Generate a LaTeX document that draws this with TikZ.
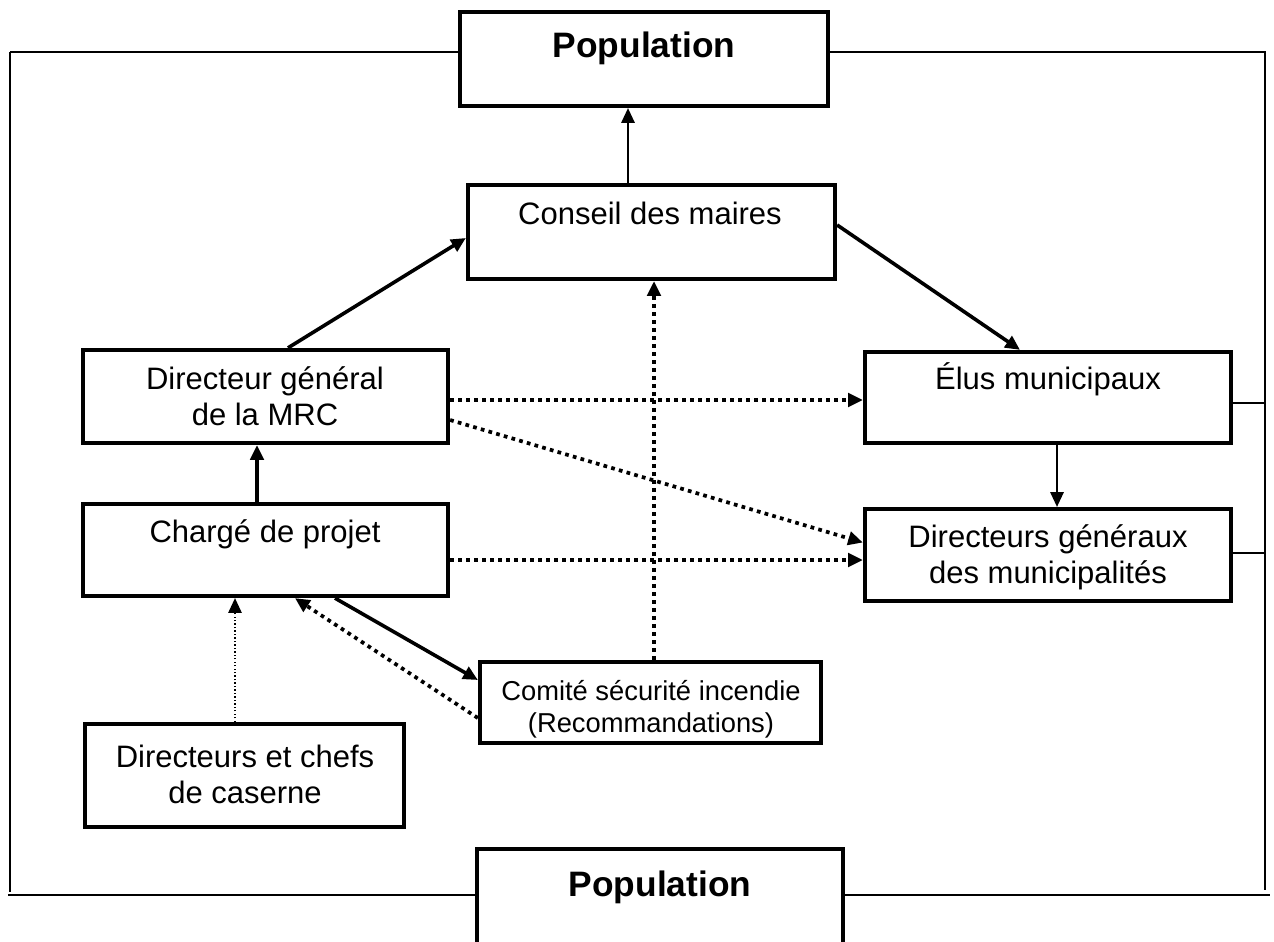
\documentclass[tikz,border=0pt]{standalone}
\usepackage{fontspec}
\setmainfont{Liberation Sans}
\usetikzlibrary{arrows.meta,calc}
\begin{document}
\begin{tikzpicture}[x=0.75pt,y=-0.75pt,
  box/.style={draw, line width=3.2pt, fill=white, inner sep=0pt, rectangle},
  txt/.style={font=\fontsize{23.25}{28}\selectfont, anchor=base, inner sep=0pt},
  smalltxt/.style={font=\fontsize{20.5}{24}\selectfont, anchor=base, inner sep=0pt},
  poptxt/.style={font=\fontsize{26.5}{30}\selectfont\bfseries, anchor=base, inner sep=0pt},
  tip/.style={-{Triangle[length=11pt,width=10pt]}},
  thinarr/.style={tip, line width=1.2pt},
  thickarr/.style={tip, line width=2.7pt},
  dotarr/.style={tip, line width=2.8pt, dash pattern=on 2.8pt off 3.2pt},
  finedot/.style={tip, line width=1pt, dash pattern=on 1pt off 1.6pt},
  frameh/.style={line width=1.6pt},
  framev/.style={line width=1.2pt}]
\useasboundingbox (0,0) rectangle (1274,942);
\clip (0,0) rectangle (1274,942);

% boxes
\node[box, minimum width=276pt, minimum height=70.5pt] (popT) at (644,59) {};
\node[box, minimum width=275.25pt, minimum height=70.5pt] (conseil) at (651.5,232) {};
\node[box, minimum width=273.75pt, minimum height=69.75pt] (dirmrc) at (265.5,396.5) {};
\node[box, minimum width=273.75pt, minimum height=69pt] (charge) at (265.5,550) {};
\node[box, minimum width=274.5pt, minimum height=68.25pt] (elus) at (1048,397.5) {};
\node[box, minimum width=274.5pt, minimum height=69pt] (dirgen) at (1048,555) {};
\node[box, minimum width=255.75pt, minimum height=60.75pt] (comite) at (650.5,702.5) {};
\node[box, minimum width=239.25pt, minimum height=77.25pt] (dirchef) at (244.5,775.5) {};
\node[box, minimum width=274.5pt, minimum height=75pt] (popB) at (660,899) {};

% texts
\node[poptxt] (tpopT) at (644,58) {Population};
\node[txt] (tconseil) at (650,224) {Conseil des maires};
\node[txt] (tdir1) at (265,389) {Directeur général};
\node[txt] (tdir2) at (265,425) {de la MRC};
\node[txt] (tcharge) at (265,542) {Chargé de projet};
\node[txt] (telus) at (1048,389) {Élus municipaux};
\node[txt] (tdg1) at (1048,547) {Directeurs généraux};
\node[txt] (tdg2) at (1048,583) {des municipalités};
\node[smalltxt] (tcom1) at (651,700) {Comité sécurité incendie};
\node[smalltxt] (tcom2) at (651,732) {(Recommandations)};
\node[txt] (tdc1) at (245,767) {Directeurs et chefs};
\node[txt] (tdc2) at (245,803) {de caserne};
\node[poptxt] (tpopB) at (660,896) {Population};

% frame
\draw[frameh] ($(popT.west)+(0,-7)$) -- ++(-448,0) coordinate (fTL);
\draw[framev] (fTL) -- ++(0,840);
\draw[frameh] ($(popT.east)+(0,-7)$) -- ++(436,0) coordinate (fTR);
\draw[framev] ($(fTR)+(-1,0)$) -- ++(0,838);
\draw[frameh] ($(popB.west)+(0,-4)$) -- ++(-467,0);
\draw[frameh] ($(popB.east)+(0,-4)$) -- ++(425,0);
\draw[framev] ($(elus.east)+(0,5.5)$) -- ++(32,0);
\draw[framev] ($(dirgen.east)+(0,-2)$) -- ++(32,0);

% connectors
\coordinate (a1) at ($(conseil.north)+(-23.5,0)$);
\draw[thinarr] (a1) -- (a1 |- popT.south);
\draw[thickarr] ($(dirmrc.north)+(22.5,0)$) -- ($(conseil.west)+(0,6)$);
\draw[thickarr] ($(conseil.east)+(0,-7)$) -- ($(elus.north)+(-28,0)$);
\coordinate (a4) at ($(elus.south)+(9,0)$);
\draw[thinarr] (a4) -- (a4 |- dirgen.north);
\coordinate (a5) at ($(charge.north)+(-8.5,0)$);
\draw[thickarr] (a5) -- (a5 |- dirmrc.south);
\coordinate (a6) at ($(dirmrc.east)+(0,3.5)$);
\draw[dotarr] (a6) -- (a6 -| elus.west);
\draw[dotarr] ($(dirmrc.east)+(0,23.5)$) -- ($(dirgen.west)+(0,-12.5)$);
\coordinate (a8) at ($(charge.east)+(0,10)$);
\draw[dotarr] (a8) -- (a8 -| dirgen.west);
\coordinate (a9) at ($(comite.north)+(3.5,0)$);
\draw[dotarr] (a9) -- (a9 |- conseil.south);
\draw[thickarr] ($(charge.south)+(69.5,0)$) -- ($(comite.west)+(0,-22.5)$);
\draw[dotarr] ($(comite.west)+(0,15.5)$) -- ($(charge.south)+(29.5,0)$);
\coordinate (a12) at ($(dirchef.north)+(-9.5,0)$);
\draw[finedot] (a12) -- (a12 |- charge.south);
\end{tikzpicture}
\end{document}
